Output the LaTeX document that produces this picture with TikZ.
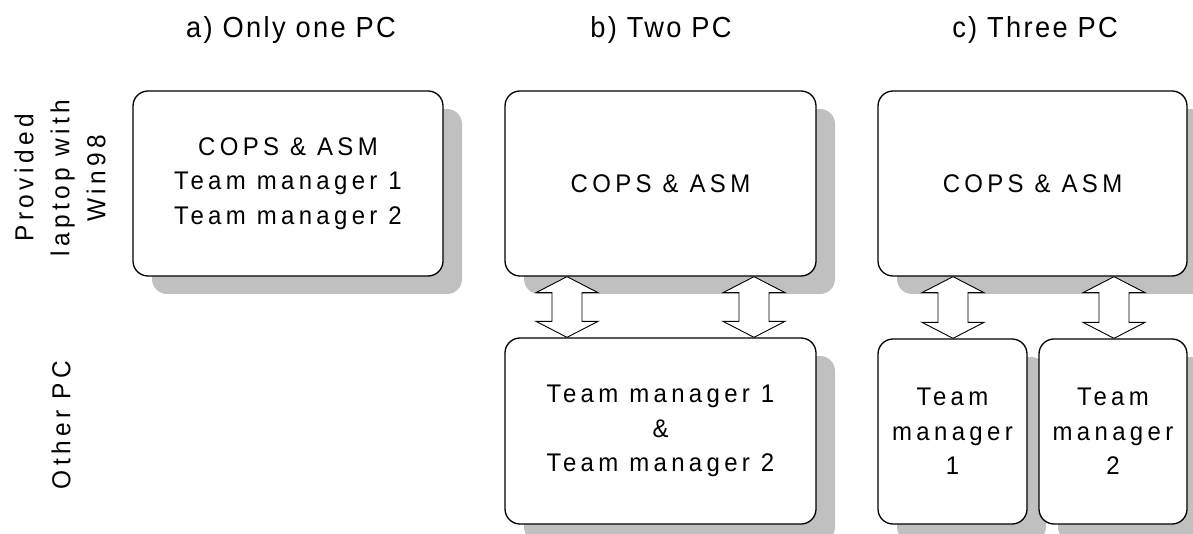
\documentclass[tikz,border=0pt]{standalone}
\usepackage{fontspec}
\setmainfont{Liberation Sans}[LetterSpace=17, FakeStretch=0.94]
\newfontfamily\titlefont{Liberation Sans}[LetterSpace=8, FakeStretch=0.94]
\usetikzlibrary{shadows,calc}

\definecolor{shadowgray}{HTML}{C0C0C0}

\tikzset{
  pcbox/.style={draw=black, line width=1.3pt, rounded corners=15pt, fill=white,
    align=center, inner sep=0pt,
    font=\fontsize{25.5}{34.5}\selectfont,
    drop shadow={shadow xshift=19pt, shadow yshift=-18pt, fill=shadowgray, opacity=1}},
  caption/.style={font=\titlefont\fontsize{29}{34}\selectfont, inner sep=0pt, anchor=base},
  sidelabel/.style={font=\fontsize{26}{36}\selectfont, align=center, rotate=90, inner sep=0pt},
  blockarrow/.style={draw=black, line width=0.9pt, fill=white, line join=miter}
}

% double-headed block arrow between the bottom of #1 and the top of #2, at x = #3
\newcommand\linkarrow[3]{%
  \draw[blockarrow] let \p1=(#1.south), \p2=(#2.north) in
    (#3pt,\y1) -- (#3pt+31pt,\y1-16pt) -- (#3pt+15pt,\y1-16pt)
    -- (#3pt+15pt,\y2+16pt) -- (#3pt+31pt,\y2+16pt) -- (#3pt,\y2)
    -- (#3pt-31pt,\y2+16pt) -- (#3pt-15pt,\y2+16pt)
    -- (#3pt-15pt,\y1-16pt) -- (#3pt-31pt,\y1-16pt) -- cycle;
}

\begin{document}
\begin{tikzpicture}[x=1pt, y=-1pt]
  \useasboundingbox (0,0) rectangle (1193,534);
  \clip (0,0) rectangle (1193,534);

  % column captions
  \node[caption] (capA) at (291,38) {a) Only one PC};
  \node[caption] (capB) at (661,38) {b) Two PC};
  \node[caption] (capC) at (1035,38) {c) Three PC};

  % row labels
  \node[sidelabel] (rowTop) at (60,178) {Provided\\laptop with\\Win98};
  \node[sidelabel] (rowBot) at (61,425) {Other PC};

  % a) one PC
  \node[pcbox, minimum width=310pt, minimum height=185pt] (A) at (288,183.5)
    {COPS \& ASM\\Team manager 1\\Team manager 2};

  % b) two PCs
  \node[pcbox, minimum width=311pt, minimum height=185pt] (B1) at (660.5,183.5)
    {COPS \& ASM};
  \node[pcbox, minimum width=311pt, minimum height=186pt] (B2) at (660.5,431)
    {Team manager 1\\\&\\Team manager 2};

  % c) three PCs
  \node[pcbox, minimum width=309pt, minimum height=185pt] (C1) at (1032.5,183.5)
    {COPS \& ASM};
  \node[pcbox, minimum width=149pt, minimum height=185pt] (C2) at (952.5,431.5)
    {Team\\manager\\1};
  \node[pcbox, minimum width=148pt, minimum height=185pt] (C3) at (1113,431.5)
    {Team\\manager\\2};

  % links
  \linkarrow{B1}{B2}{567}
  \linkarrow{B1}{B2}{754}
  \linkarrow{C1}{C2}{953}
  \linkarrow{C1}{C3}{1114}
\end{tikzpicture}
\end{document}
